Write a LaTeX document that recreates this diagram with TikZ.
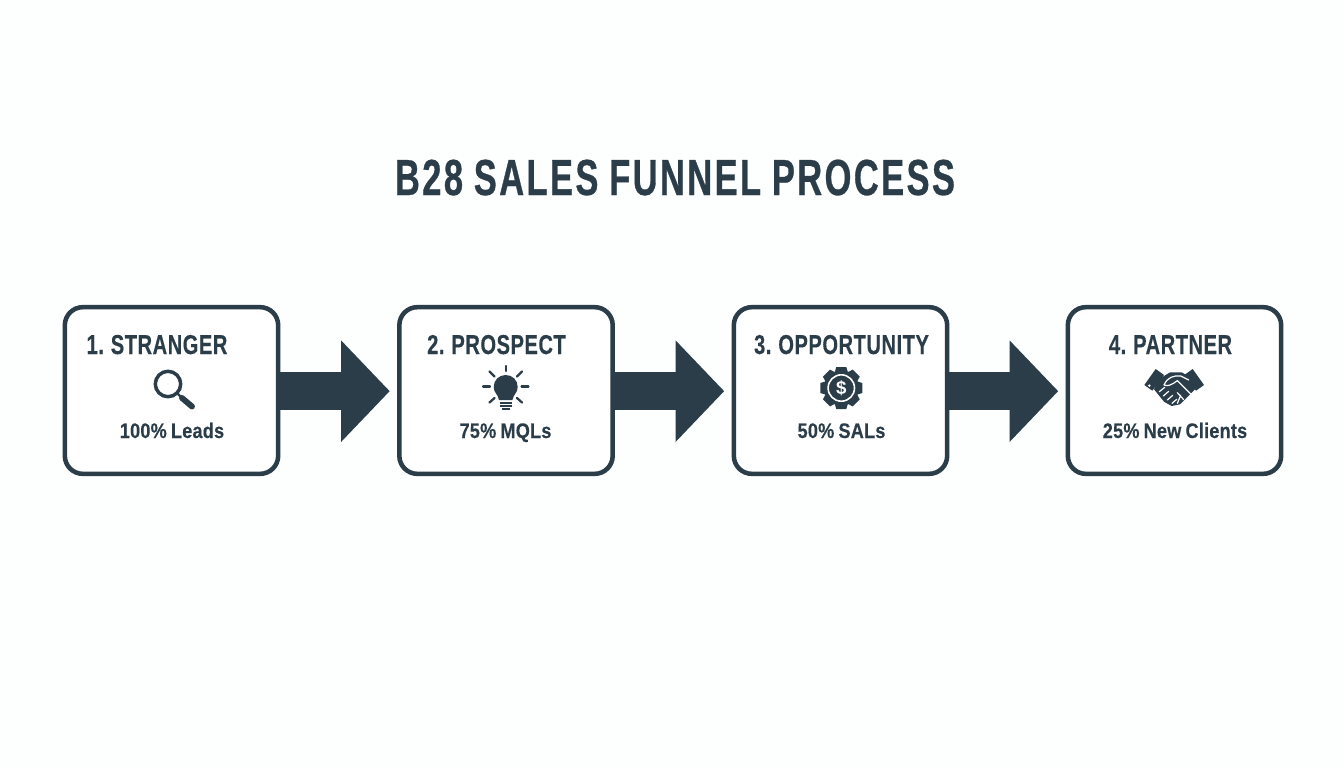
\documentclass[tikz,border=0pt]{standalone}
\usepackage{fontspec}
\setmainfont{Liberation Sans}
\newfontfamily\titlef[FakeStretch=0.68,LetterSpace=4.8,WordSpace=0.9,FakeBold=0.6]{Liberation Sans}
\newfontfamily\headf[FakeStretch=0.735,LetterSpace=2,WordSpace=0.8,FakeBold=0.3]{Liberation Sans}
\newfontfamily\subf[FakeStretch=0.86,LetterSpace=1,WordSpace=0.8,FakeBold=0.3]{Liberation Sans}
\usetikzlibrary{arrows.meta}
\definecolor{ink}{HTML}{2B3D49}
\definecolor{paper}{HTML}{FDFEFE}
\tikzset{
  card/.style={draw=ink,line width=3.4pt,rounded corners=13.5pt,fill=white,minimum width=160pt,minimum height=125pt,inner sep=0pt},
  flow/.style={draw=ink,line width=28.5pt,-{Triangle[length=36.5pt,width=74pt]},shorten >=5.5pt},
  titletext/.style={text=ink,font=\fontsize{38}{38}\titlef\bfseries,inner sep=0pt,anchor=base},
  headtext/.style={text=ink,font=\fontsize{20.5}{20.5}\headf\bfseries,inner sep=0pt,anchor=base},
  subtext/.style={text=ink,font=\fontsize{15.8}{15.8}\subf\bfseries,inner sep=0pt,anchor=base},
  ray/.style={draw=ink,line width=1.7pt,line cap=round},
}
\begin{document}
\begin{tikzpicture}[x=0.75pt,y=-0.75pt]
\useasboundingbox (0,0) rectangle (1344,768);
\fill[paper] (0,0) rectangle (1344,768);
\node[titletext] (title) at (675,195) {B28 SALES FUNNEL PROCESS};
\node[card] (c1) at (171.5,390.5) {};
\node[card] (c2) at (506,390.5) {};
\node[card] (c3) at (840.5,390.5) {};
\node[card] (c4) at (1174.5,390.5) {};
\draw[flow] ([yshift=-0.5pt]c1.east) -- ([yshift=-0.5pt]c2.west);
\draw[flow] ([yshift=-0.5pt]c2.east) -- ([yshift=-0.5pt]c3.west);
\draw[flow] ([yshift=-0.5pt]c3.east) -- ([yshift=-0.5pt]c4.west);
\node[headtext] (h1) at (157,354) {1. STRANGER};
\node[headtext] (h2) at (496.5,354) {2. PROSPECT};
\node[headtext] (h3) at (841.5,354) {3. OPPORTUNITY};
\node[headtext] (h4) at (1170.5,354) {4. PARTNER};
\node[subtext] (s1) at (172,438) {100\% Leads};
\node[subtext] (s2) at (505.5,438) {75\% MQLs};
\node[subtext] (s3) at (841.5,438) {50\% SALs};
\node[subtext] (s4) at (1175,438) {25\% New Clients};
% magnifier
\draw[ink,line width=2.6pt] (168,384) circle (12.7);
\draw[ink,line width=1.8pt] (177,393) -- (182,398);
\draw[ink,line width=4.4pt,line cap=round] (182,398) -- (192,406.5);
% bulb
\fill[ink] (499,400) .. controls (498,394) and (493.7,393) .. (493.7,387) .. controls (493.7,380) and (499,375) .. (505.7,375) .. controls (512.4,375) and (517.7,380) .. (517.7,387) .. controls (517.7,393) and (513.4,394) .. (512.4,400) -- cycle;
\draw[ink,line width=1.2pt] (499.5,403) -- (512,403) (499.5,406) -- (512,406);
\draw[ink,line width=1.4pt] (502,409) -- (509.5,409);
\draw[ray] (505.7,366) -- (505.7,371);
\draw[ray] (483,386.5) -- (490,386.5);
\draw[ray] (521.5,386.5) -- (528.5,386.5);
\draw[ray] (489.5,371.5) -- (494.5,376.5);
\draw[ray] (522,371.5) -- (517,376.5);
\draw[ray] (489.5,402.5) -- (494.5,398);
\draw[ray] (522,402.5) -- (517,398);
% gear
\fill[ink] (841.3,388) circle (17.5);
\foreach \a in {0,45,...,315}
  \fill[ink,rotate around={\a:(841.3,388)}] (834.5,373) -- (848.1,373) -- (846.3,367) -- (836.3,367) -- cycle;
\draw[white,line width=1.2pt] (841.3,388) circle (13.2);
\node[text=white,font=\fontsize{14}{14}\selectfont\bfseries,inner sep=0pt] (dollar) at (841.3,388) {\$};
% handshake
\begin{scope}[shift={(1090,320)},x=0.25pt,y=-0.25pt]
\fill[ink] (163,195) -- (197,147) -- (222,165) -- (187,212) -- cycle;
\fill[ink] (342,195) -- (308,147) -- (283,165) -- (318,212) -- cycle;
\fill[ink] (205,178) -- (240,157) -- (275,157) -- (298,170) -- (318,205) -- (295,228) -- (270,253) -- (245,258) -- (222,245) -- (192,208) -- cycle;
\fill[white] (178,197) circle (4);
\draw[white,line width=0.9pt,line join=round,line cap=round] (222,195) .. controls (232,172) and (250,166) .. (272,168) -- (296,180)
  (222,195) .. controls (232,200) and (245,195) .. (262,182) -- (302,222);
\draw[white,line width=0.9pt,line cap=round] (208,215) -- (224,202) (220,228) -- (236,214) (232,240) -- (248,226) (246,250) -- (260,238) (262,250) -- (272,226) (280,238) -- (262,218);
\end{scope}
\end{tikzpicture}
\end{document}
